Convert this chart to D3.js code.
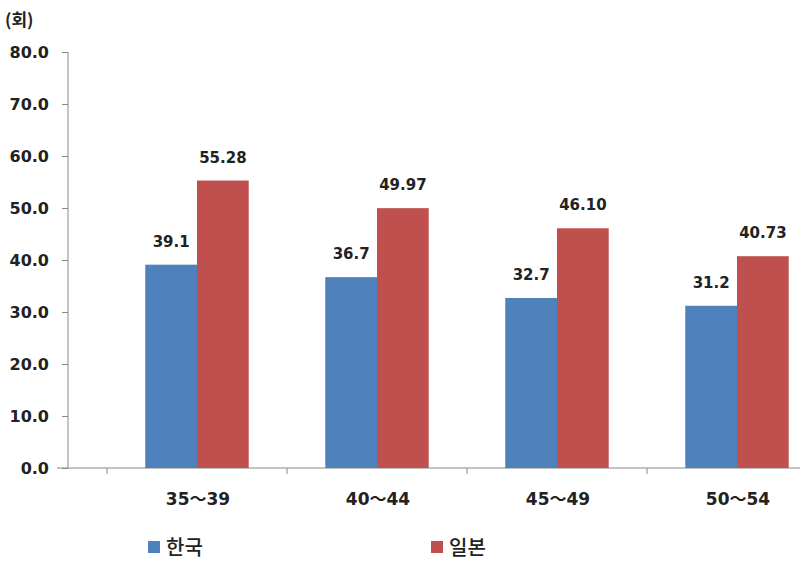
<!DOCTYPE html>
<html><head><meta charset="utf-8">
<script src="https://cdn.jsdelivr.net/npm/d3@7"></script>
<style>body{margin:0;background:#fff}svg{display:block}</style>
</head><body>
<svg id="c" width="800" height="567"></svg>
<script>
const categories = ["35～39", "40～44", "45～49", "50～54"];
const seriesNames = ["한국", "일본"];
const korea = [39.1, 36.7, 32.7, 31.2];
const japan = [55.28, 49.97, 46.10, 40.73];
const koreaLabels = ["39.1", "36.7", "32.7", "31.2"];
const japanLabels = ["55.28", "49.97", "46.10", "40.73"];
const yTicks = [0, 10, 20, 30, 40, 50, 60, 70, 80];
const colors = ["#4F81BD", "#C0504D"];

const svg = d3.select("#c");
const font = "'DejaVu Sans', 'Noto Sans CJK KR', sans-serif";
const kfont = "'Noto Sans CJK KR', sans-serif";

const y = d3.scaleLinear().domain([0, 80]).range([468, 52]);
const x0 = d3.scaleBand().domain(categories).range([107, 827]).paddingInner(0).paddingOuter(0);
const x1 = d3.scaleBand().domain(seriesNames).range([0, x0.bandwidth()]).paddingInner(0).paddingOuter(0.74);

// y axis
const yAxis = svg.append("g").attr("transform", "translate(68,0)")
  .call(d3.axisLeft(y).tickValues(yTicks).tickSize(6).tickFormat(d => d.toFixed(1)).tickPadding(13));
yAxis.select(".domain").attr("stroke", "#888").attr("d", "M0,52V468");
yAxis.selectAll(".tick line").attr("stroke", "#888");
yAxis.selectAll(".tick text").attr("font-family", font).attr("font-weight", "bold").attr("font-size", 16).attr("fill", "#222");

// x axis line
svg.append("line").attr("x1", 57).attr("x2", 800).attr("y1", y(0)).attr("y2", y(0)).attr("stroke", "#888");
// separators
const seps = categories.map(c => x0(c));
svg.selectAll(".sep").data(seps).join("line")
  .attr("x1", d => d).attr("x2", d => d).attr("y1", y(0)).attr("y2", y(0) + 6).attr("stroke", "#888");

// bars
const data = categories.map((c, i) => ({c, vals: [korea[i], japan[i]], labs: [koreaLabels[i], japanLabels[i]]}));
const g = svg.selectAll(".grp").data(data).join("g").attr("transform", d => `translate(${x0(d.c)},0)`);
g.selectAll("rect").data(d => d.vals.map((v, k) => ({v, k}))).join("rect")
  .attr("x", d => x1(seriesNames[d.k])).attr("width", x1.bandwidth())
  .attr("y", d => y(d.v)).attr("height", d => y(0) - y(d.v))
  .attr("fill", d => colors[d.k]);
g.selectAll("text.lab").data(d => d.labs.map((l, k) => ({l, k, v: d.vals[k]}))).join("text")
  .attr("class", "lab")
  .attr("x", d => x1(seriesNames[d.k]) + x1.bandwidth() / 2)
  .attr("y", d => y(d.v) - 18)
  .attr("text-anchor", "middle").attr("font-family", font).attr("font-weight", "bold")
  .attr("font-size", 15).attr("fill", "#222").text(d => d.l);

// x labels
svg.selectAll(".xl").data(categories).join("text")
  .attr("x", d => x0(d) + x0.bandwidth() / 2 + 1).attr("y", 505)
  .attr("text-anchor", "middle").attr("font-family", font).attr("font-weight", "bold")
  .attr("font-size", 17).attr("fill", "#222").text(d => d);

// unit
svg.append("text").attr("x", 5).attr("y", 26).attr("font-family", kfont).attr("font-weight", "bold")
  .attr("font-size", 17).attr("fill", "#222").text("(회)");

// legend
const legX = [148, 431];
seriesNames.forEach((n, k) => {
  svg.append("rect").attr("x", legX[k]).attr("y", 541).attr("width", 12).attr("height", 12).attr("fill", colors[k]);
  svg.append("text").attr("x", legX[k] + 18).attr("y", 555).attr("font-family", kfont).attr("font-weight", 500)
    .attr("font-size", 20).attr("fill", "#222").text(n);
});
</script>
</body></html>
